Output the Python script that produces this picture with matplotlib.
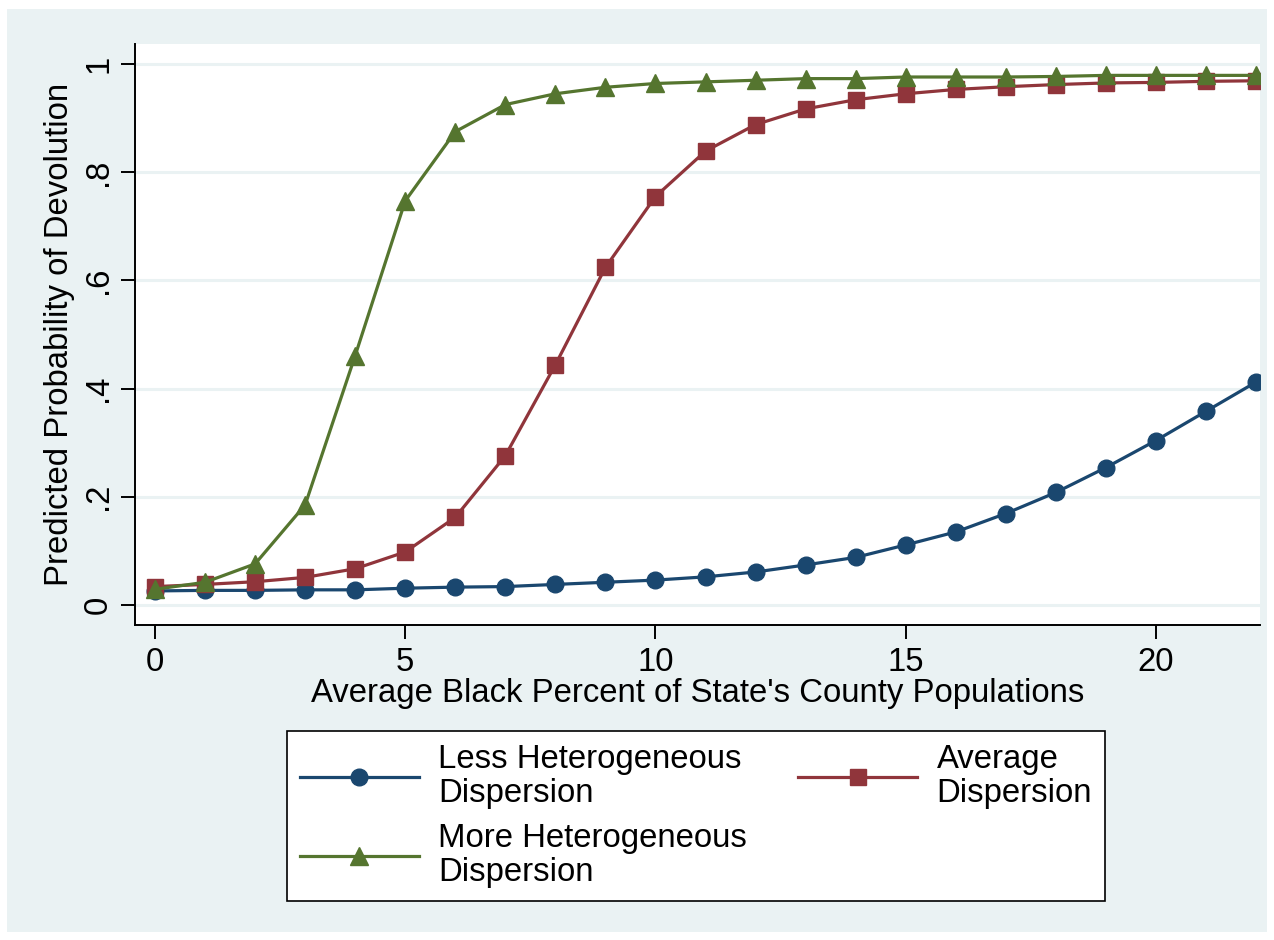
import matplotlib

matplotlib.use("Agg")
import matplotlib.pyplot as plt
from matplotlib.patches import Rectangle

plt.rcParams["font.family"] = ["Liberation Sans", "DejaVu Sans"]

# values
black_pct = list(range(23))
less_het = [0.026, 0.027, 0.027, 0.028, 0.028, 0.031, 0.033, 0.034, 0.038, 0.042,
            0.046, 0.052, 0.061, 0.074, 0.088, 0.111, 0.135, 0.169, 0.208, 0.254,
            0.304, 0.358, 0.412]
average = [0.034, 0.038, 0.043, 0.051, 0.067, 0.098, 0.162, 0.276, 0.444, 0.624,
           0.755, 0.839, 0.888, 0.917, 0.934, 0.945, 0.953, 0.958, 0.962, 0.965,
           0.966, 0.968, 0.969]
more_het = [0.029, 0.042, 0.076, 0.185, 0.461, 0.747, 0.875, 0.925, 0.945, 0.957,
            0.964, 0.967, 0.970, 0.973, 0.973, 0.976, 0.976, 0.976, 0.977, 0.979,
            0.979, 0.979, 0.979]
series_labels = ["Less Heterogeneous\nDispersion", "Average\nDispersion",
                 "More Heterogeneous\nDispersion"]
y_ticks = [0, 0.2, 0.4, 0.6, 0.8, 1.0]
y_tick_labels = ["0", ".2", ".4", ".6", ".8", "1"]
x_ticks = [0, 5, 10, 15, 20]

BG = "#EAF2F3"
NAVY = "#1A476F"
MAROON = "#90353B"
GREEN = "#55752F"
W, H = 1274, 940
FS = 23.7

fig = plt.figure(figsize=(W / 100, H / 100), dpi=100, facecolor="white")
fig.patches.append(Rectangle((7 / W, 8 / H), 1260 / W, 923 / H, transform=fig.transFigure,
                             facecolor=BG, edgecolor="none", zorder=-10))
ax = fig.add_axes([135 / W, (H - 625) / H, 1125 / W, 581 / H])
ax.set_facecolor("white")

ax.plot(black_pct, less_het, color=NAVY, lw=2.3, marker="o", ms=12, label=series_labels[0],
        zorder=3)
ax.plot(black_pct, average, color=MAROON, lw=2.3, marker="s", ms=11.5, label=series_labels[1],
        zorder=3)
ax.plot(black_pct, more_het, color=GREEN, lw=2.3, marker="^", ms=13, label=series_labels[2],
        zorder=4)

ax.set_xlim(-0.4, 22.08)
ax.set_ylim(-0.037, 1.037)
ax.set_yticks(y_ticks)
ax.set_yticklabels(y_tick_labels, rotation=90, va="center")
ax.set_xticks(x_ticks)
ax.grid(axis="y", color=BG, lw=2.2)
ax.set_axisbelow(True)
for side in ["top", "right"]:
    ax.spines[side].set_visible(False)
for side in ["left", "bottom"]:
    ax.spines[side].set_linewidth(1.4)
ax.tick_params(axis="both", length=10, width=1.4, labelsize=FS, direction="out")
ax.tick_params(axis="x", pad=6)
ax.tick_params(axis="y", pad=5)
ax.set_xlabel("Average Black Percent of State's County Populations", fontsize=FS, labelpad=0)
ax.set_ylabel("Predicted Probability of Devolution", fontsize=FS, labelpad=6)

handles, labels = ax.get_legend_handles_labels()
order = [0, 2, 1]
leg = fig.legend([handles[i] for i in order], [labels[i] for i in order], ncol=2,
                 loc="upper left", bbox_to_anchor=(287 / W, (H - 731) / H),
                 fontsize=FS, frameon=True, fancybox=False, edgecolor="black",
                 facecolor="white", framealpha=1,
                 handlelength=3.6, handletextpad=0.6, columnspacing=1.55,
                 labelspacing=0.45, borderpad=0.4, borderaxespad=0)
leg.get_frame().set_linewidth(1.2)
for txt in leg.get_texts():
    txt.set_linespacing(1.1)

fig.savefig("out.png", dpi=100, facecolor="white")
